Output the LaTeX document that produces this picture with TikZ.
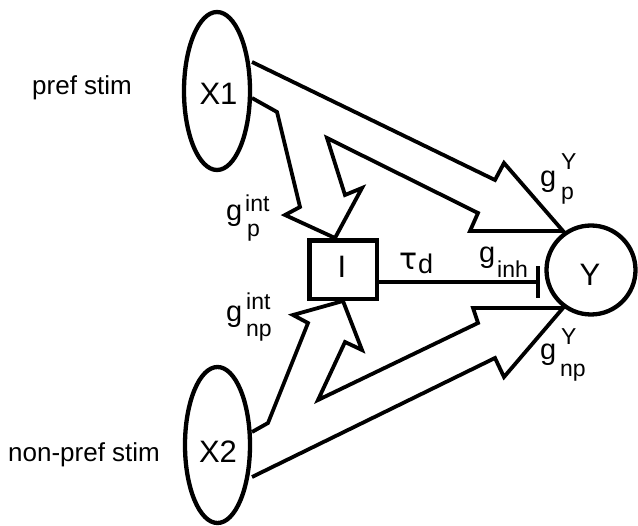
\documentclass[tikz,border=0pt]{standalone}
\usepackage{fontspec}
\setmainfont{Liberation Sans}
\newfontfamily\taufont{DejaVu Sans}
\usetikzlibrary{shapes.geometric}
\begin{document}
\begin{tikzpicture}[x=1pt,y=-1pt,
  shp/.style={draw,line width=4.3pt,inner sep=0pt},
  arr/.style={line width=3.8pt,line join=miter,miter limit=10},
  inhline/.style={line width=3.6pt},
  big/.style={inner sep=0pt,font=\fontsize{31}{31}\selectfont},
  stim/.style={inner sep=0pt,anchor=base west,font=\fontsize{26}{26}\selectfont},
  gmain/.style={inner sep=0pt,anchor=base west,font=\fontsize{29}{29}\selectfont},
  gidx/.style={inner sep=0pt,anchor=base west,font=\fontsize{23}{23}\selectfont},
  taul/.style={inner sep=0pt,anchor=base west,font=\taufont\fontsize{30}{30}\selectfont},
  taud/.style={inner sep=0pt,anchor=base west,font=\fontsize{27}{27}\selectfont}]
\useasboundingbox (0,0) rectangle (638,526);

% shapes
\node[shp,ellipse,minimum width=66pt,minimum height=158pt] (X1) at (217,91) {};
\node[shp,ellipse,minimum width=65pt,minimum height=156pt] (X2) at (217.5,445) {};
\node[shp,rectangle,minimum width=67.5pt,minimum height=58.5pt] (I) at (343.25,269.75) {};
\node[shp,circle,minimum size=89pt] (Y) at (591,270) {};

\node[big] (X1t) at (218.5,93.5) {X1};
\node[big] (X2t) at (218,451.5) {X2};
\node[big] (Yt) at (590,275) {Y};
\node[big] (It) at (342,266.5) {I};

% upper arrow pair (X1 -> Y and X1 -> I)
\draw[arr] (252,62) -- (495,180) -- (504,163) -- (563,231) -- (470,231) -- (478,213)
  -- (327,138) -- (345,195) -- (362,188) -- (335,238) -- (285,215) -- (300,207)
  -- (277,112) -- (252,98);

% lower arrow pair (X2 -> Y and X2 -> I)
\draw[arr] (252,477) -- (495,358) -- (504,377) -- (563,308) -- (473,308) -- (478,323)
  -- (318,400) -- (345,342) -- (362,350) -- (343,301) -- (293,315) -- (308,323)
  -- (268,423) -- (252,432);

% inhibitory connection I -> Y
\coordinate (inhEnd) at (538,282);
\draw[inhline] ([yshift=-12.25pt]I.east) -- (inhEnd);
\draw[inhline] ([yshift=-16pt]inhEnd) -- ([yshift=16pt]inhEnd);

% labels
\node[stim] (pref) at (32,95) {pref stim};
\node[stim] (npref) at (8,462) {non-pref stim};

\node[taul] (tau) at (399,270) {τ};
\node[taud] (taudd) at (418,274) {d};

\node[gmain] (ginh) at (479,263) {g};
\node[gidx] (ginhs) at (497,278) {inh};

\node[gmain] (gpY) at (540,187) {g};
\node[gidx] (gpYu) at (561,170) {Y};
\node[gidx] (gpYs) at (561,200) {p};

\node[gmain] (gnpY) at (540,360) {g};
\node[gidx] (gnpYu) at (561,345) {Y};
\node[gidx] (gnpYs) at (560,377) {np};

\node[gmain] (gpi) at (226,221) {g};
\node[gidx] (gpiu) at (245,212) {int};
\node[gidx] (gpis) at (247,237) {p};

\node[gmain] (gnpi) at (226,322) {g};
\node[gidx] (gnpiu) at (246,310) {int};
\node[gidx] (gnpis) at (246,337) {np};
\end{tikzpicture}
\end{document}
